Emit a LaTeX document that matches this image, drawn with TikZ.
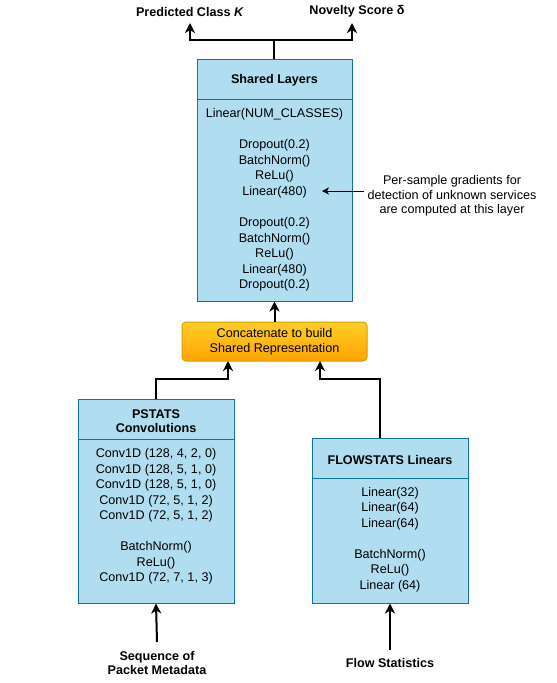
\documentclass[tikz,border=0pt]{standalone}
\usepackage{fontspec}
\setmainfont{Liberation Sans}
\usetikzlibrary{arrows.meta}
\definecolor{boxfill}{HTML}{B1DDF0}
\definecolor{boxline}{HTML}{10739E}
\definecolor{orTop}{HTML}{FFCD28}
\definecolor{orBot}{HTML}{FFA500}
\definecolor{orLine}{HTML}{D79B00}
\begin{document}
\begin{tikzpicture}[x=1pt,y=-1pt,
  blk/.style={draw=boxline, fill=boxfill, line width=1pt, inner sep=0pt},
  txt/.style={align=center, inner sep=0pt, font=\fontsize{12.6}{15.55}\selectfont},
  hdr/.style={align=center, inner sep=0pt, font=\fontsize{12.6}{14}\selectfont\bfseries},
  lbl/.style={align=center, inner sep=1pt, font=\fontsize{12.6}{14}\selectfont\bfseries},
  ann/.style={align=center, inner sep=3pt, font=\fontsize{12.6}{14.3}\selectfont},
  conn/.style={line width=2pt, -{Stealth[length=10pt,width=10pt,inset=3pt]}},
  thinconn/.style={line width=1pt, -{Stealth[length=7pt,width=7pt,inset=2pt]}},
  divider/.style={draw=boxline, line width=1pt}
]
\useasboundingbox (0,0) rectangle (557,683);

% Shared layers
\node[blk, minimum width=155pt, minimum height=242pt] (sh) at (274.5,180) {};
\draw[divider] (197,99) -- (352,99);
\node[hdr] (shh) at (274.5,80) {Shared Layers};
\node[txt] (sht) at (274.5,200) {Linear(NUM\_CLASSES)\\[15.55pt]Dropout(0.2)\\BatchNorm()\\ReLu()\\Linear(480)\\[15.55pt]Dropout(0.2)\\BatchNorm()\\ReLu()\\Linear(480)\\Dropout(0.2)};

% annotation
\node[ann] (an) at (452,196) {Per-sample gradients for\\detection of unknown services\\are computed at this layer};
\coordinate (antip) at (322,191);
\draw[thinconn] (an.west |- antip) -- (antip);

% Concatenate
\node[draw=orLine, top color=orTop, bottom color=orBot, rounded corners=4pt, line width=1pt,
      minimum width=185pt, minimum height=39pt, txt, font=\fontsize{12.6}{15}\selectfont] (cc) at (274.5,341.5)
      {Concatenate to build\\Shared Representation};

% PSTATS
\node[blk, minimum width=156pt, minimum height=204pt] (ps) at (156,501) {};
\draw[divider] (78,439) -- (234,439);
\node[hdr] (psh) at (156,421) {PSTATS\\Convolutions};
\node[txt] (pst) at (156,516.5) {Conv1D (128, 4, 2, 0)\\Conv1D (128, 5, 1, 0)\\Conv1D (128, 5, 1, 0)\\Conv1D (72, 5, 1, 2)\\Conv1D (72, 5, 1, 2)\\[15.55pt]BatchNorm()\\ReLu()\\Conv1D (72, 7, 1, 3)};

% FLOWSTATS
\node[blk, minimum width=156pt, minimum height=165pt] (fs) at (390,520.5) {};
\draw[divider] (312,478) -- (468,478);
\node[hdr] (fsh) at (390,460) {FLOWSTATS Linears};
\node[txt] (fst) at (390,539.5) {Linear(32)\\Linear(64)\\Linear(64)\\[15.55pt]BatchNorm()\\ReLu()\\Linear (64)};

% top labels
\node[lbl] (pk) at (190,11.5) {Predicted Class \textit{K}};
\node[lbl] (ns) at (357,11.5) {Novelty Score δ};
\coordinate (pkin) at (190,23);
\coordinate (nsin) at (352,23);
\coordinate (j) at (274,40);
\draw[line width=2pt] (sh.north -| j) -- (j);
\draw[conn] (j) -| (pkin);
\draw[conn] (j) -| (nsin);

% concat to shared
\draw[conn] (cc.north) -- (sh.south);

% branches to concat
\coordinate (ccl) at (228,361);
\coordinate (ccr) at (320,361);
\draw[conn] (ps.north) |- (228,379) -- (ccl);
\draw[conn] (fs.north -| 380,0) |- (320,379) -- (ccr);

% inputs
\node[lbl] (seq) at (157,662.5) {Sequence of\\Packet Metadata};
\node[lbl] (flw) at (390,662.5) {Flow Statistics};
\coordinate (seqs) at (157,642);
\coordinate (flws) at (390,650);
\draw[conn] (seqs) -- (ps.south);
\draw[conn] (flws) -- (fs.south);
\end{tikzpicture}
\end{document}
